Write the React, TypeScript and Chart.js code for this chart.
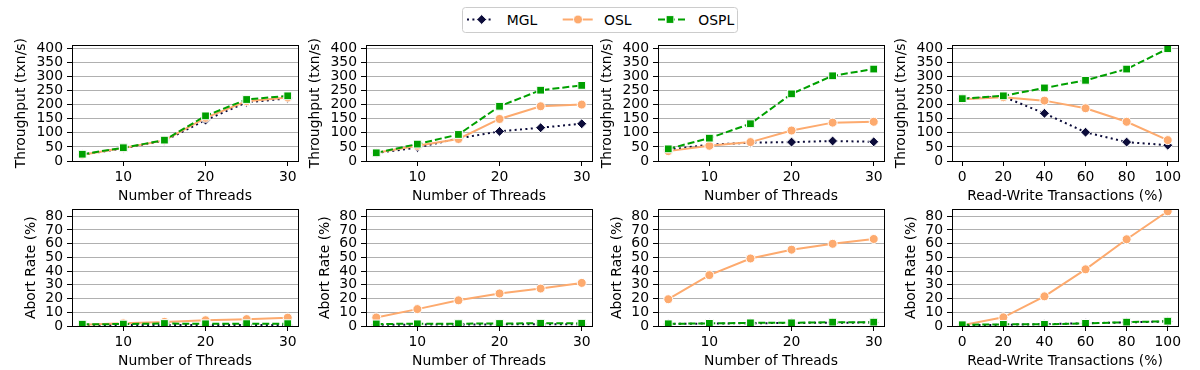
import React, { useEffect, useRef } from 'react';
import { Chart, registerables } from 'chart.js';

Chart.register(...registerables);

// ---------- data ----------
const THREADS = [5, 10, 15, 20, 25, 30];
const RW_PCT = [0, 20, 40, 60, 80, 100];

const THREAD_TICKS = [10, 20, 30];
const RW_TICKS = [0, 20, 40, 60, 80, 100];
const THROUGHPUT_TICKS = [0, 50, 100, 150, 200, 250, 300, 350, 400];
const ABORT_TICKS = [0, 10, 20, 30, 40, 50, 60, 70, 80];

const SERIES_NAMES = ['MGL', 'OSL', 'OSPL'];

// Throughput panels
const TP1_MGL = [22, 45, 72, 145, 208, 222];
const TP1_OSL = [22, 46, 73, 153, 212, 225];
const TP1_OSPL = [24, 47, 74, 160, 218, 231];

const TP2_MGL = [28, 48, 80, 105, 118, 132];
const TP2_OSL = [29, 54, 78, 149, 194, 200];
const TP2_OSPL = [29, 60, 94, 194, 251, 268];

const TP3_MGL = [40, 58, 65, 67, 71, 68];
const TP3_OSL = [35, 54, 67, 108, 136, 139];
const TP3_OSPL = [43, 81, 132, 238, 302, 326];

const TP4_MGL = [221, 228, 169, 102, 67, 56];
const TP4_OSL = [219, 226, 214, 187, 139, 74];
const TP4_OSPL = [221, 231, 259, 286, 326, 398];

// Abort-rate panels
const AR1_MGL = [0.6, 0.7, 0.8, 0.8, 0.8, 0.8];
const AR1_OSL = [1.0, 2.0, 3.0, 4.2, 5.0, 6.1];
const AR1_OSPL = [1.3, 1.4, 1.8, 1.6, 1.7, 1.7];

const AR2_MGL = [1.0, 1.0, 1.1, 1.2, 1.3, 1.3];
const AR2_OSL = [6.2, 12.3, 18.7, 23.7, 27.3, 31.4];
const AR2_OSPL = [1.5, 1.6, 1.7, 1.8, 2.0, 2.0];

const AR3_MGL = [1.5, 1.8, 2.0, 2.2, 2.4, 2.5];
const AR3_OSL = [19.5, 37.1, 49.2, 55.6, 59.9, 63.4];
const AR3_OSPL = [1.6, 1.9, 2.3, 2.3, 2.8, 2.8];

const AR4_MGL = [0.5, 0.9, 1.3, 2.0, 2.6, 3.3];
const AR4_OSL = [0.6, 6.3, 21.6, 41.3, 63.2, 83.6];
const AR4_OSPL = [0.9, 1.2, 1.2, 1.9, 2.8, 3.5];

// ---------- styles ----------
const FONT = 'DejaVu Sans';
const FS = 13.9;
const COLORS = ['#0c0c3a', '#fdaa6e', '#00a000'];
const STYLES: any[] = [
  { pointStyle: 'rectRot', pointRadius: 5, borderDash: [2, 3.4], order: 2 },
  { pointStyle: 'circle', pointRadius: 4.5, borderDash: [], order: 1 },
  { pointStyle: 'rect', pointRadius: 5.5, borderDash: [7, 3], order: 0 },
];

const PLOT_W = 226;
const Y_AXIS_W = 72;
const PAD_T = 8;
const PAD_R = 8;
const X_AXIS_H = 45;

const framePlugin = {
  id: 'frame',
  afterDatasetsDraw(chart: any) {
    const { ctx, chartArea } = chart;
    const l = Math.round(chartArea.left) + 0.5;
    const t = Math.round(chartArea.top) + 0.5;
    const r = Math.round(chartArea.right) + 0.5;
    const b = Math.round(chartArea.bottom) + 0.5;
    ctx.save();
    ctx.strokeStyle = '#000';
    ctx.lineWidth = 1;
    ctx.strokeRect(l, t, r - l, b - t);
    ctx.restore();
  },
};

type PanelProps = {
  left: number;
  top: number;
  plotH: number;
  xs: number[];
  ys: number[][];
  xTicks: number[];
  xMin: number;
  xMax: number;
  xTitle: string;
  yTicks: number[];
  yMax: number;
  yTitle: string;
  yTitleCenter: number;
  xTitleCenter: number;
};

function Panel(p: PanelProps) {
  const ref = useRef<HTMLCanvasElement>(null);
  const w = Y_AXIS_W + PLOT_W + PAD_R;
  const h = PAD_T + p.plotH + X_AXIS_H;
  useEffect(() => {
    const half = (FS * 1.2) / 2;
    const chart = new Chart(ref.current!, {
      type: 'line',
      data: {
        datasets: p.ys.map((vals, i) => ({
          label: SERIES_NAMES[i],
          data: p.xs.map((x, j) => ({ x, y: vals[j] })),
          borderColor: COLORS[i],
          backgroundColor: COLORS[i],
          pointBackgroundColor: COLORS[i],
          pointBorderColor: '#ffffff',
          pointBorderWidth: 1,
          borderWidth: 2,
          tension: 0,
          fill: false,
          ...STYLES[i],
        })),
      },
      options: {
        animation: false,
        responsive: false,
        devicePixelRatio: 1,
        events: [],
        layout: { padding: { left: 0, right: PAD_R, top: PAD_T, bottom: 0 } },
        plugins: { legend: { display: false }, tooltip: { enabled: false } },
        scales: {
          x: {
            type: 'linear',
            min: p.xMin,
            max: p.xMax,
            afterBuildTicks: (s: any) => {
              s.ticks = p.xTicks.map((v) => ({ value: v }));
            },
            afterFit: (s: any) => {
              s.height = X_AXIS_H;
            },
            ticks: {
              autoSkip: false,
              maxRotation: 0,
              padding: 3,
              color: '#000',
              font: { family: FONT, size: FS },
            },
            grid: {
              display: true,
              drawOnChartArea: false,
              drawTicks: true,
              tickLength: 5,
              tickColor: '#000',
              tickWidth: 1,
            },
            border: { display: true, color: '#000', width: 1 },
            title: {
              display: true,
              text: p.xTitle,
              color: '#000',
              font: { family: FONT, size: FS },
              padding: { top: 0, bottom: h - p.xTitleCenter - half },
            },
          },
          y: {
            type: 'linear',
            min: 0,
            max: p.yMax,
            afterBuildTicks: (s: any) => {
              s.ticks = p.yTicks.map((v) => ({ value: v }));
            },
            afterFit: (s: any) => {
              s.width = Y_AXIS_W;
            },
            ticks: {
              autoSkip: false,
              padding: 4,
              color: '#000',
              font: { family: FONT, size: FS },
            },
            grid: {
              display: true,
              color: '#b0b0b0',
              lineWidth: 1,
              drawTicks: true,
              tickLength: 5,
              tickColor: '#000',
              tickWidth: 1,
            },
            border: { display: true, color: '#000', width: 1 },
            title: {
              display: true,
              text: p.yTitle,
              color: '#000',
              font: { family: FONT, size: FS },
              padding: { top: p.yTitleCenter - half, bottom: 0 },
            },
          },
        },
      } as any,
      plugins: [framePlugin],
    });
    return () => chart.destroy();
  }, []);
  return (
    <canvas
      ref={ref}
      width={w}
      height={h}
      style={{
        position: 'absolute',
        left: p.left - Y_AXIS_W,
        top: p.top - PAD_T,
        width: w,
        height: h,
      }}
    />
  );
}

function Legend() {
  const y = 12.5;
  return (
    <svg
      width={277}
      height={26}
      style={{ position: 'absolute', left: 462, top: 7 }}
    >
      <rect x={0.5} y={0.5} width={275} height={25} rx={3} ry={3} fill="#ffffff" stroke="#cccccc" strokeWidth={1} />
      <line x1={5} y1={y} x2={31} y2={y} stroke={COLORS[0]} strokeWidth={2} strokeDasharray="2 3.4" />
      <polygon
        points={`${19.7 - 5},${y} ${19.7},${y - 5} ${19.7 + 5},${y} ${19.7},${y + 5}`}
        fill={COLORS[0]}
        stroke="#fff"
        strokeWidth={1}
      />
      <text x={44.7} y={18} fontFamily={FONT} fontSize={FS} fill="#000">
        {SERIES_NAMES[0]}
      </text>
      <line x1={100.7} y1={y} x2={130.7} y2={y} stroke={COLORS[1]} strokeWidth={2} />
      <circle cx={116} cy={y} r={4.5} fill={COLORS[1]} stroke="#fff" strokeWidth={1} />
      <text x={142} y={18} fontFamily={FONT} fontSize={FS} fill="#000">
        {SERIES_NAMES[1]}
      </text>
      <line x1={196} y1={y} x2={225} y2={y} stroke={COLORS[2]} strokeWidth={2} strokeDasharray="7 3" />
      <rect x={208 - 3.9} y={y - 3.9} width={7.8} height={7.8} fill={COLORS[2]} stroke="#fff" strokeWidth={1} />
      <text x={236.3} y={18} fontFamily={FONT} fontSize={FS} fill="#000">
        {SERIES_NAMES[2]}
      </text>
    </svg>
  );
}

const COL_LEFTS = [72, 366, 658, 952];
const TOP_ROW = { top: 41, plotH: 120 };
const BOT_ROW = { top: 205, plotH: 121 };

export default function App() {
  const tp = [
    [TP1_MGL, TP1_OSL, TP1_OSPL],
    [TP2_MGL, TP2_OSL, TP2_OSPL],
    [TP3_MGL, TP3_OSL, TP3_OSPL],
    [TP4_MGL, TP4_OSL, TP4_OSPL],
  ];
  const ar = [
    [AR1_MGL, AR1_OSL, AR1_OSPL],
    [AR2_MGL, AR2_OSL, AR2_OSPL],
    [AR3_MGL, AR3_OSL, AR3_OSPL],
    [AR4_MGL, AR4_OSL, AR4_OSPL],
  ];
  const xCfg = (i: number) =>
    i === 3
      ? { xs: RW_PCT, xTicks: RW_TICKS, xMin: -5, xMax: 105, xTitle: 'Read-Write Transactions (%)' }
      : { xs: THREADS, xTicks: THREAD_TICKS, xMin: 3.75, xMax: 31.25, xTitle: 'Number of Threads' };
  return (
    <div style={{ position: 'absolute', left: 0, top: 0, width: 1200, height: 370, background: '#fff' }}>
      <Legend />
      {COL_LEFTS.map((l, i) => (
        <Panel
          key={'tp' + i}
          left={l}
          top={TOP_ROW.top}
          plotH={TOP_ROW.plotH}
          ys={tp[i]}
          {...xCfg(i)}
          yTicks={THROUGHPUT_TICKS}
          yMax={410}
          yTitle="Throughput (txn/s)"
          yTitleCenter={21}
          xTitleCenter={163}
        />
      ))}
      {COL_LEFTS.map((l, i) => (
        <Panel
          key={'ar' + i}
          left={l}
          top={BOT_ROW.top}
          plotH={BOT_ROW.plotH}
          ys={ar[i]}
          {...xCfg(i)}
          yTicks={ABORT_TICKS}
          yMax={85}
          yTitle="Abort Rate (%)"
          yTitleCenter={31}
          xTitleCenter={164}
        />
      ))}
    </div>
  );
}
